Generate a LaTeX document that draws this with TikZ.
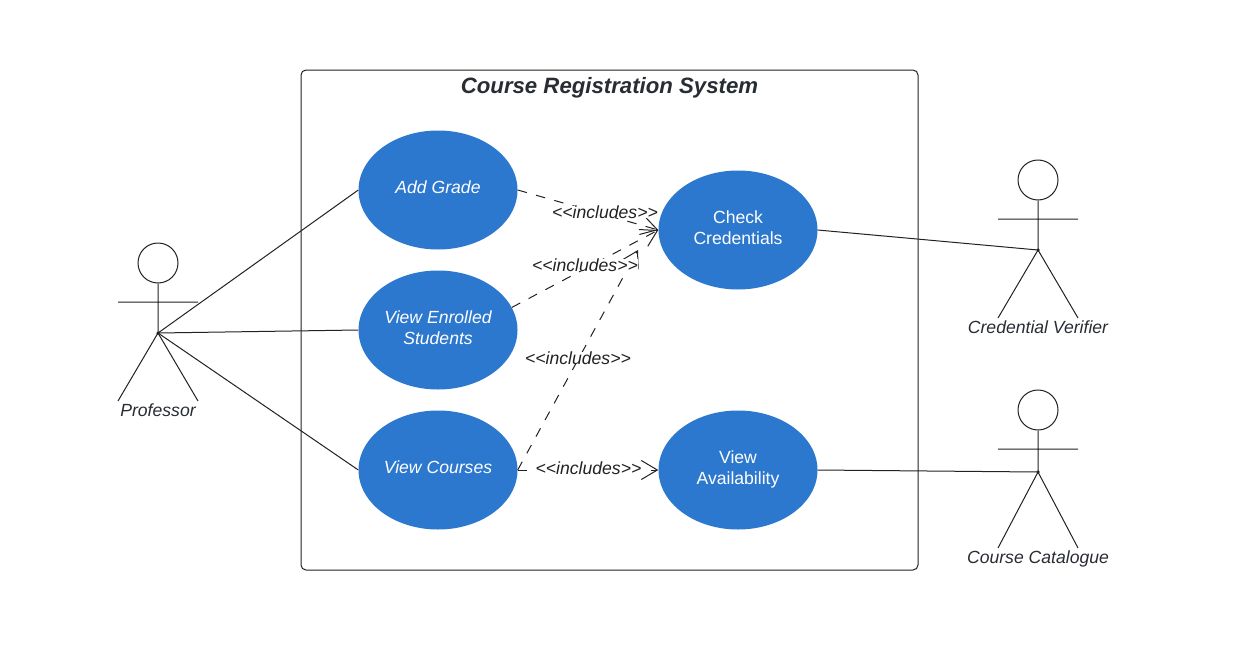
\documentclass[tikz,border=0pt]{standalone}
\usepackage{fontspec}
\setmainfont{Liberation Sans}
\usetikzlibrary{shapes.geometric,arrows.meta}
\definecolor{ucblue}{HTML}{2C78CF}
\definecolor{inkc}{HTML}{222222}
\definecolor{txtc}{HTML}{282C33}
\tikzset{
  usecase/.style={ellipse,fill=ucblue,draw=none,minimum width=159pt,minimum height=119pt,inner sep=0pt},
  uctext/.style={text=white,align=center,inner sep=0pt,font=\fontsize{17.6}{21}\selectfont},
  ucitext/.style={uctext,font=\fontsize{17.6}{21}\selectfont\itshape},
  link/.style={draw=inkc,line width=1pt},
  limb/.style={draw=inkc,line width=1pt},
  dep/.style={draw=inkc,line width=1pt,dash pattern=on 9.5pt off 9.5pt,
    -{Straight Barb[length=16pt,width=19pt,line width=1pt]}},
  deplabel/.style={fill=white,inner sep=0pt,text=inkc,font=\fontsize{17.6}{20}\selectfont\itshape},
  actorname/.style={text=txtc,font=\fontsize{17.6}{20}\selectfont\itshape,inner sep=0pt},
  headc/.style={circle,draw=inkc,line width=1pt,minimum size=40pt,inner sep=0pt},
  hipdot/.style={circle,fill=inkc,inner sep=0pt,minimum size=3.5pt},
  sysbox/.style={draw=inkc,line width=1pt,rounded corners=5pt,minimum width=617pt,minimum height=500pt,inner sep=0pt}
}
\begin{document}
\begin{tikzpicture}[x=1pt,y=-1pt]
\useasboundingbox (0,0) rectangle (1238,669);
\fill[white] (0,0) rectangle (1238,669);
\node[sysbox] (sys) at (609.5,320) {};
\node[text=txtc,inner sep=0pt,font=\fontsize{22.2}{26}\selectfont\bfseries\itshape] (systitle) at (609.5,88) {Course Registration System};
\node[usecase] (add) at (438,190) {};
\node[usecase] (enr) at (438,330) {};
\node[usecase] (crs) at (438,470) {};
\node[usecase] (chk) at (738,230) {};
\node[usecase] (ava) at (738,470) {};
\node[ucitext] (addt) at (438,187) {Add Grade};
\node[ucitext] (enrt) at (438,328) {View Enrolled\\Students};
\node[ucitext] (crst) at (438,467) {View Courses};
\node[uctext] (chkt) at (738,228) {Check\\Credentials};
\node[uctext] (avat) at (738,469) {View\\Availability};
% Professor
\node[headc] (phead) at (158,263) {};
\coordinate (phip) at (158,333);
\coordinate (parmL) at (118,302);
\coordinate (parmR) at (198,302);
\coordinate (plegL) at (118,401);
\coordinate (plegR) at (198,401);
\draw[limb] (phead.south) -- (phip) (parmL) -- (parmR) (plegL) -- (phip) -- (plegR);
\node[hipdot] (pdot) at (phip) {};
\node[actorname] (pname) at (158,410) {Professor};
% Credential Verifier
\node[headc] (vhead) at (1038,180) {};
\coordinate (vhip) at (1038,250);
\coordinate (varmL) at (998,219);
\coordinate (varmR) at (1078,219);
\coordinate (vlegL) at (998,318);
\coordinate (vlegR) at (1078,318);
\draw[limb] (vhead.south) -- (vhip) (varmL) -- (varmR) (vlegL) -- (vhip) -- (vlegR);
\node[hipdot] (vdot) at (vhip) {};
\node[actorname] (vname) at (1038,327) {Credential Verifier};
% Course Catalogue
\node[headc] (chead) at (1038,410) {};
\coordinate (chip) at (1038,472);
\coordinate (carmL) at (998,449);
\coordinate (carmR) at (1078,449);
\coordinate (clegL) at (998,548);
\coordinate (clegR) at (1078,548);
\draw[limb] (chead.south) -- (chip) (carmL) -- (carmR) (clegL) -- (chip) -- (clegR);
\node[hipdot] (cdot) at (chip) {};
\node[actorname] (cname) at (1038,559) {Course Catalogue};
% associations
\draw[link] (phip) -- (add.west);
\draw[link] (phip) -- (enr.west);
\draw[link] (phip) -- (crs.west);
\draw[link] (chk.east) -- (vhip);
\draw[link] (ava.east) -- (chip);
% includes
\coordinate (chkin) at (638,250);
\draw[dep] (add.east) -- (chk.west);
\draw[dep] (enr.17) -- (chk.west);
\draw[dep] (crs.east) -- (chkin);
\draw[dep] (crs.east) -- (ava.west);
\node[deplabel] (l1) at (605,212) {<{}<includes>{}>};
\node[deplabel] (l2) at (585,265) {<{}<includes>{}>};
\node[deplabel] (l3) at (578,358) {<{}<includes>{}>};
\node[deplabel] (l4) at (588.5,468) {<{}<includes>{}>};
\end{tikzpicture}
\end{document}
